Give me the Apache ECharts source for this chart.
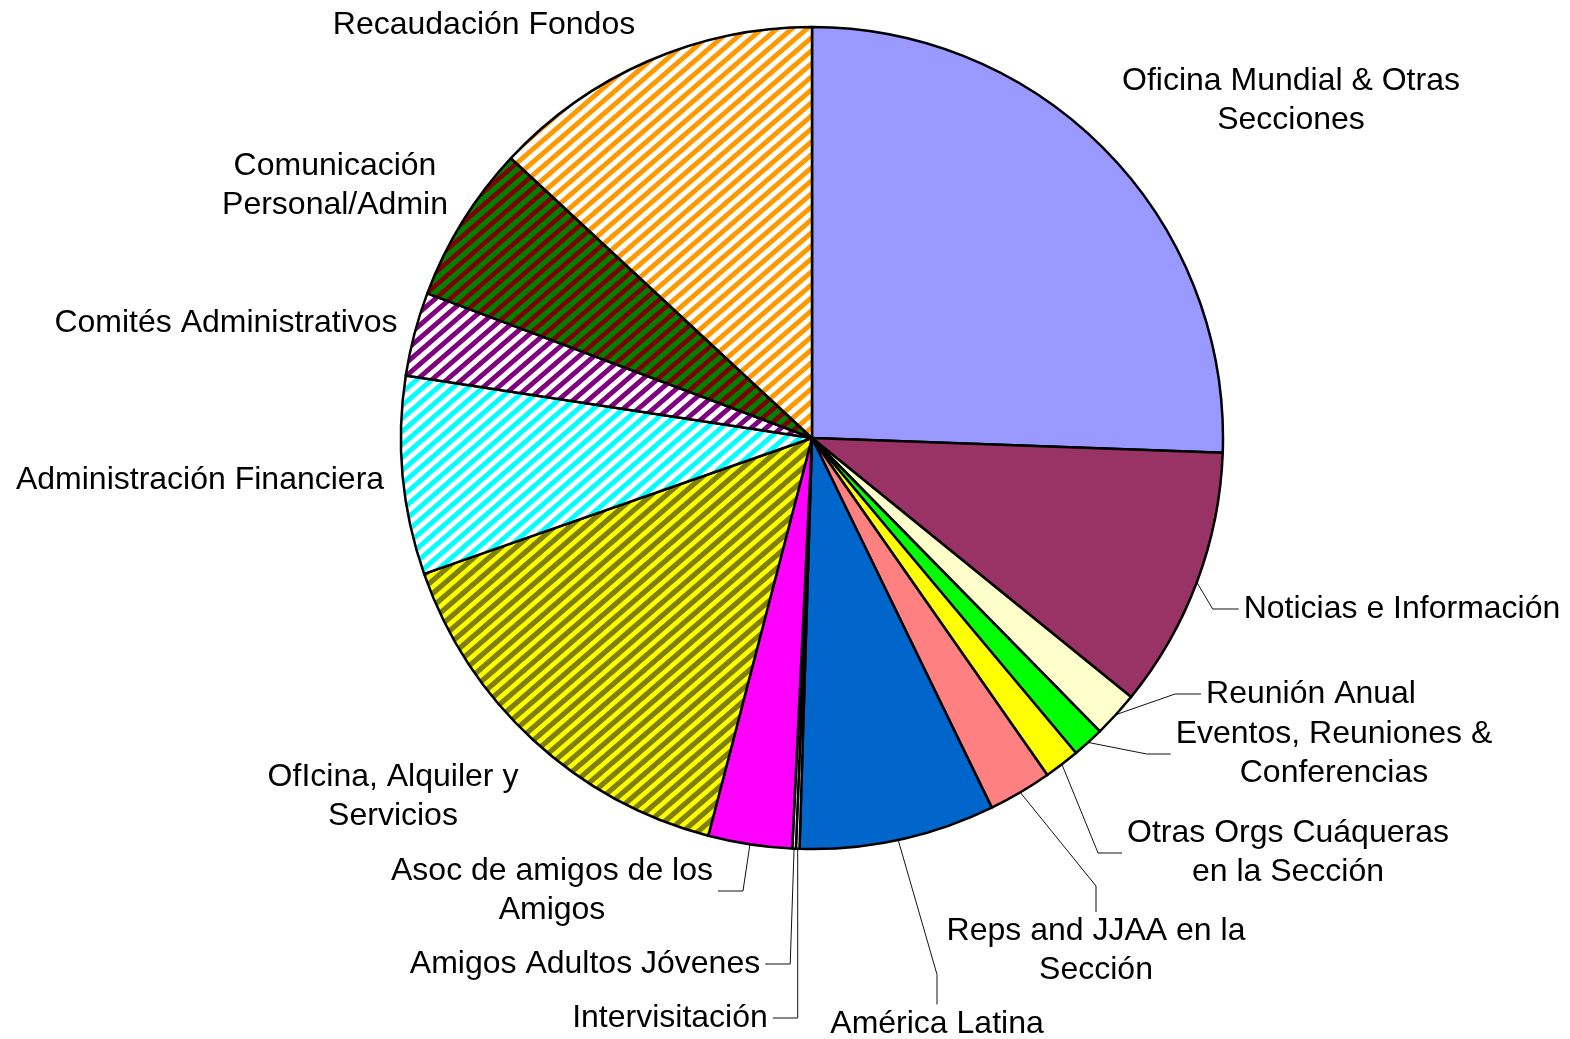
<!DOCTYPE html>
<html>
<head>
<meta charset="utf-8">
<script src="https://cdn.jsdelivr.net/npm/echarts@6/dist/echarts.min.js"></script>
<style>
  html, body { margin: 0; padding: 0; background: #fff; }
  #chart { width: 1570px; height: 1039px; }
</style>
</head>
<body>
<div id="chart"></div>
<script>
// categories (label text, wrapped like the original)
var categories = [
  "Oficina Mundial & Otras\nSecciones",
  "Noticias e Información",
  "Reunión Anual",
  "Eventos, Reuniones &\nConferencias",
  "Otras Orgs Cuáqueras\nen la Sección",
  "Reps and JJAA en la\nSección",
  "América Latina",
  "Intervisitación",
  "Amigos Adultos Jóvenes",
  "Asoc de amigos de los\nAmigos",
  "OfIcina, Alquiler y\nServicios",
  "Administración Financiera",
  "Comités Administrativos",
  "Comunicación\nPersonal/Admin",
  "Recaudación Fondos"
]
// share of total, %
var values = [25.6, 10.3, 1.8, 1.25, 1.4, 2.5, 7.7, 0.14, 0.14, 3.3, 15.6, 7.8, 3.3, 6.2, 13.1]

// diagonal "/" stripes, tile 15 x 13
function hatch(bg, fg, w) {
  var tw = 15, th = 13
  var c = document.createElement("canvas")
  c.width = tw
  c.height = th
  var g = c.getContext("2d")
  g.fillStyle = bg
  g.fillRect(0, 0, tw, th)
  g.strokeStyle = fg
  g.lineWidth = w
  g.beginPath()
  for (var k = -1; k <= 1; k++) {
    g.moveTo(k * tw - tw * 0.5, th * 1.5)
    g.lineTo(k * tw + tw * 1.5, -th * 0.5)
  }
  g.stroke()
  return { image: c, repeat: "repeat" }
}

var fills = [
  "#9999FF", "#993366", "#FFFFCC", "#00FF00", "#FFFF00", "#FF8080", "#0066CC",
  "#FFFFFF", "#FFFFFF", "#FF00FF",
  hatch("#808000", "#FFFF00", 4.6),
  hatch("#FFFFFF", "#00FFFF", 4.9),
  hatch("#FFFFFF", "#800080", 4.9),
  hatch("#008000", "#800000", 4.6),
  hatch("#FFFFFF", "#FF9900", 4.9)
]

// label centres and leader settings
var labelPos = [
  [1291, 101], [1402, 609], [1311, 694], [1334, 754], [1288, 853],
  [1096, 951], [937, 1024], [670, 1018], [585, 964], [552, 891],
  [393, 797], [200, 480], [226, 323], [335, 186], [484, 25]
]
var leader = [false, true, true, true, true, true, true, true, true, true, false, false, false, false, false]
var leaderLen = [0, 26, 26, 24, 24, 26, 30, 25, 25, 25, 0, 0, 0, 0, 0]

var chart = echarts.init(document.getElementById("chart"))

var data = categories.map(function (c, i) {
  return {
    name: c,
    value: values[i],
    itemStyle: { color: fills[i] },
    labelLine: { show: leader[i], length: 10, length2: leaderLen[i] }
  }
})

chart.setOption({
  animation: false,
  series: [{
    type: "pie",
    center: [812, 438],
    radius: 411,
    startAngle: 90,
    clockwise: true,
    avoidLabelOverlap: false,
    itemStyle: { borderColor: "#000", borderWidth: 2.5 },
    emphasis: { disabled: true },
    label: {
      show: true,
      position: "outside",
      formatter: "{b}",
      color: "#000",
      fontFamily: "Liberation Sans, Arial, sans-serif",
      fontSize: 32,
      lineHeight: 39,
      align: "center",
      padding: [0, 5]
    },
    labelLine: {
      lineStyle: { color: "#111", width: 1 }
    },
    labelLayout: function (p) {
      var pos = labelPos[p.dataIndex]
      return { x: pos[0], y: pos[1], align: "center", verticalAlign: "middle" }
    },
    data: data
  }]
})
</script>
</body>
</html>
